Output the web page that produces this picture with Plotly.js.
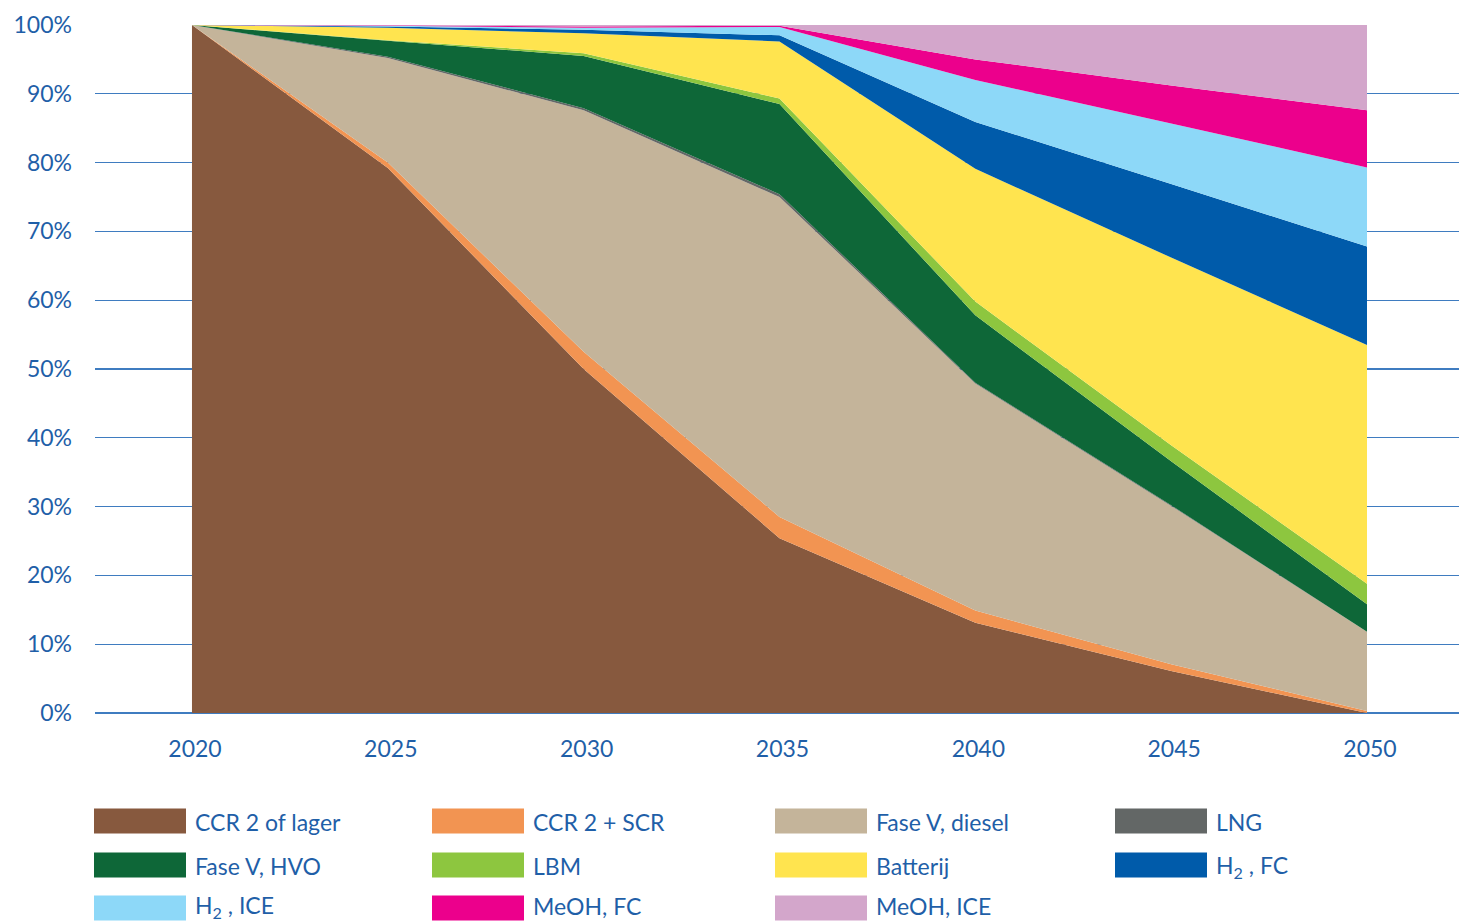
<!DOCTYPE html>
<html>
<head>
<meta charset="utf-8">
<script src="https://cdn.plot.ly/plotly-3.0.1.min.js"></script>
<style>html,body{margin:0;padding:0;background:#fff;}#chart{width:1459px;height:922px;}</style>
</head>
<body>
<div id="chart"></div>
<script>
var years = [2020, 2025, 2030, 2035, 2040, 2045, 2050];
var seriesNames = ["CCR 2 of lager", "CCR 2 + SCR", "Fase V, diesel", "LNG", "Fase V, HVO", "LBM", "Batterij", "H<sub>2</sub> , FC", "H<sub>2</sub> , ICE", "MeOH, FC", "MeOH, ICE"];
var seriesColors = ["#87593E", "#F29452", "#C4B49A", "#636766", "#0E6738", "#8DC63F", "#FFE44F", "#005BAA", "#8DD8F8", "#EC008C", "#D3A6CB"];
var ccr2Lager  = [100, 79.2, 50.0, 25.4, 13.1, 6.1, 0.0];
var ccr2Scr    = [0, 0.8, 2.5, 3.1, 1.8, 1.0, 0.3];
var faseVDiesel= [0, 15.2, 35.1, 46.5, 33.0, 23.0, 11.5];
var lng        = [0, 0.2, 0.3, 0.4, 0.1, 0.1, 0.0];
var faseVHvo   = [0, 2.3, 7.6, 13.1, 9.8, 6.4, 4.0];
var lbm        = [0, 0.1, 0.4, 0.8, 2.0, 2.3, 3.0];
var batterij   = [0, 1.8, 2.9, 8.3, 19.3, 27.3, 34.7];
var h2Fc       = [0, 0.2, 0.5, 0.9, 6.8, 10.7, 14.3];
var h2Ice      = [0, 0.1, 0.3, 1.2, 6.1, 8.8, 11.5];
var meohFc     = [0, 0.05, 0.2, 0.2, 3.0, 5.5, 8.3];
var meohIce    = [0, 0.05, 0.2, 0.1, 5.0, 8.8, 12.4];
var yTickVals = [0, 10, 20, 30, 40, 50, 60, 70, 80, 90, 100];
var yTickText = ["0%", "10%", "20%", "30%", "40%", "50%", "60%", "70%", "80%", "90%", "100%"];
var xTickText = ["2020", "2025", "2030", "2035", "2040", "2045", "2050"];

var allSeries = [ccr2Lager, ccr2Scr, faseVDiesel, lng, faseVHvo, lbm, batterij, h2Fc, h2Ice, meohFc, meohIce];
var textColor = "#1F5FA8";
var fontFam = "Lato, 'Open Sans', sans-serif";

var traces = allSeries.map(function (vals, i) {
  return {
    x: years, y: vals, name: seriesNames[i], type: "scatter", mode: "none",
    stackgroup: "one", fill: "tonexty", fillcolor: seriesColors[i],
    line: {width: 0}, showlegend: false, hoverinfo: "x+y+name"
  };
});

// custom legend (paper coordinates)
var W = 1459, H = 922, L = 95, R = 0, T = 25, B = 209;
var pw = W - L - R, ph = H - T - B;
function px(xp) { return (xp - L) / pw; }
function py(yp) { return (H - B - yp) / ph; }
var colX = [94, 432, 775, 1115];
var rowY = [821, 865, 908];
var textY = [822, 866, 906];
var shapes = [], annotations = [];
seriesNames.forEach(function (nm, i) {
  var c = i % 4, r = Math.floor(i / 4);
  var x0 = colX[c], yc = rowY[r];
  shapes.push({type: "rect", xref: "paper", yref: "paper",
    x0: px(x0), x1: px(x0 + 92), y0: py(yc + 12.5), y1: py(yc - 12.5),
    fillcolor: seriesColors[i], line: {width: 0}});
  annotations.push({xref: "paper", yref: "paper", x: px(x0 + 99), y: py(textY[r]),
    xanchor: "left", yanchor: "middle", text: nm, showarrow: false,
    font: {family: fontFam, size: 23, color: textColor}});
});

var layout = {
  width: W, height: H,
  margin: {l: L, r: R, t: T, b: B},
  paper_bgcolor: "#fff", plot_bgcolor: "#fff",
  showlegend: false,
  font: {family: fontFam, size: 22, color: textColor},
  xaxis: {
    range: [2017.524, 2052.349], tickvals: years, ticktext: xTickText,
    showgrid: false, zeroline: false, showline: false, ticks: "",
    ticklabelstandoff: 20, ticklabelshift: 3, tickfont: {size: 23, color: textColor}
  },
  yaxis: {
    range: [0, 100], tickvals: yTickVals, ticktext: yTickText,
    showgrid: true, gridcolor: "#3F7CC0", gridwidth: 1.3,
    zeroline: true, zerolinecolor: "#3F7CC0", zerolinewidth: 1.3,
    showline: false, ticks: "", ticklabelstandoff: 22,
    tickfont: {size: 23, color: textColor}
  },
  shapes: shapes,
  annotations: annotations
};

Plotly.newPlot("chart", traces, layout, {displayModeBar: false, staticPlot: true});
</script>
</body>
</html>
